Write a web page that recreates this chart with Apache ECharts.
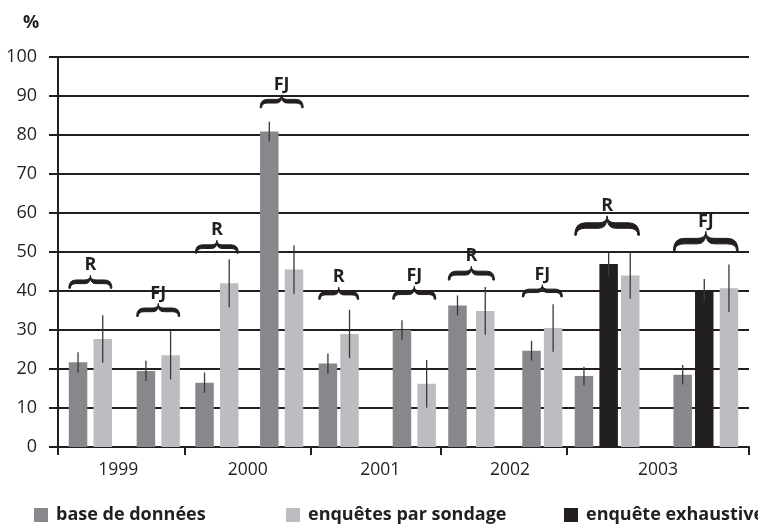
<!DOCTYPE html>
<html><head><meta charset="utf-8">
<script src="https://cdn.jsdelivr.net/npm/echarts@6/dist/echarts.min.js"></script>
<style>html,body{margin:0;padding:0;background:#fff}#c{width:758px;height:525px}</style>
</head><body><div id="c"></div>
<script>
// ---- data ----
const years = ['1999', '2000', '2001', '2002', '2003'];
const groupYear = ['1999','1999','2000','2000','2001','2001','2002','2002','2003','2003'];
const groupLabel = ['R','FJ','R','FJ','R','FJ','R','FJ','R','FJ'];
const seriesNames = ['base de données', 'enquêtes par sondage', 'enquête exhaustive'];
const baseDonnees    = [21.7, 19.5, 16.5, 80.9, 21.4, 30.0, 36.3, 24.7, 18.2, 18.5];
const baseDonneesErr = [2.6, 2.6, 2.6, 2.5, 2.6, 2.5, 2.55, 2.55, 2.4, 2.5];
const sondage        = [27.7, 23.5, 42.0, 45.5, 29.0, 16.2, 34.9, 30.5, 44.0, 40.7];
const sondageErr     = [6.1, 6.2, 6.15, 6.2, 6.2, 6.1, 6.1, 6.1, 6.0, 6.1];
const exhaustive     = [null, null, null, null, null, null, null, null, 46.9, 40.2];
const exhaustiveErr  = [null, null, null, null, null, null, null, null, 3.0, 2.9];
const braceLevel     = [40.7, 33.5, 49.7, 87.0, 37.9, 37.9, 42.8, 38.5, 54.3, 50.3];
const yTicks = [0, 10, 20, 30, 40, 50, 60, 70, 80, 90, 100];

// ---- layout (slots on a fine category axis) ----
const N_SLOTS = 224;
const slotBase       = [6, 28, 47, 68, 87, 111, 129, 153, 170, 202];
const slotSondage    = [14, 36, 55, 76, 94, 119, 138, 160, 185, 217];
const slotExhaustive = [null, null, null, null, null, null, null, null, 178, 209];
const yearTickSlots  = [0, 41, 82, 124, 165];
const yearLabelSlots = [19, 61, 104, 146, 194];

const BAR_W = 18.5;
const INK = '#231f20';
const FONT = '"Open Sans", "Noto Sans", sans-serif';
const colors = ['#87888b', '#bcbdc0', '#231f20'];

const categories = Array.from({length: N_SLOTS}, (_, i) => 's' + i);
function slotArray(values, slots) {
  const arr = new Array(N_SLOTS).fill('-');
  values.forEach((v, g) => { if (v != null && slots[g] != null) arr[slots[g]] = v; });
  return arr;
}
const errData = [];
[[baseDonnees, baseDonneesErr, slotBase], [sondage, sondageErr, slotSondage], [exhaustive, exhaustiveErr, slotExhaustive]]
  .forEach(([vals, errs, slots]) => vals.forEach((v, g) => {
    if (v != null) errData.push([slots[g], v - errs[g], v + errs[g]]);
  }));
const braceData = groupLabel.map((_, g) => {
  const s = [slotBase[g], slotSondage[g], slotExhaustive[g]].filter(x => x != null);
  return [Math.min(...s), Math.max(...s), braceLevel[g]];
});

function bracePath(xL, xR, yb) {
  const w = xR - xL, h = 0.3 * w, xm = (xL + xR) / 2;
  const ya = yb - 0.5 * h, yt = yb - h, t = 0.085 * w, e = 1.6;
  const up = ya - t / 2, dn = ya + t / 2;
  return [
    'M', xL, yb,
    'Q', xL, up, xL + 0.17 * w, up,
    'L', xm - 0.13 * w, up,
    'Q', xm, up, xm, yt,
    'Q', xm, up, xm + 0.13 * w, up,
    'L', xR - 0.17 * w, up,
    'Q', xR, up, xR, yb,
    'L', xR - e, yb,
    'Q', xR - e, dn, xR - 0.17 * w, dn,
    'L', xm + 0.13 * w, dn,
    'Q', xm, dn, xm, yt + 2,
    'Q', xm, dn, xm - 0.13 * w, dn,
    'L', xL + 0.17 * w, dn,
    'Q', xL + e, dn, xL + e, yb,
    'Z'
  ].join(' ');
}

const chart = echarts.init(document.getElementById('c'));
chart.setOption({
  animation: false,
  grid: {left: 58, right: 9, top: 57, bottom: 78},
  graphic: [{type: 'text', left: 23, top: 14,
    style: {text: '%', font: 'bold 18px "Open Sans", sans-serif', fill: INK}}],
  legend: seriesNames.map((n, i) => ({
    data: [n], left: [29, 281, 559][i], top: 501, icon: 'rect', itemWidth: 14, itemHeight: 14,
    selectedMode: false,
    textStyle: {fontFamily: FONT, fontWeight: 'bold', fontSize: 18, color: INK, padding: [0, 0, 0, 3]}
  })),
  xAxis: {
    type: 'category', data: categories, boundaryGap: true,
    axisLine: {lineStyle: {color: INK, width: 2}},
    axisTick: {show: true, length: 8, lineStyle: {color: INK, width: 2},
      interval: (i) => yearTickSlots.indexOf(i) >= 0},
    axisLabel: {interval: (i) => yearLabelSlots.indexOf(i) >= 0,
      formatter: (v, i) => { const k = yearLabelSlots.indexOf(i); return k >= 0 ? years[k] : ''; },
      fontFamily: FONT, fontSize: 17.5, color: INK, margin: 14}
  },
  yAxis: {
    type: 'value', min: yTicks[0], max: yTicks[yTicks.length - 1], interval: yTicks[1] - yTicks[0],
    axisLine: {show: true, lineStyle: {color: INK, width: 2}},
    axisTick: {show: true, length: 9, lineStyle: {color: INK, width: 2}},
    splitLine: {show: true, lineStyle: {color: INK, width: 2}},
    axisLabel: {fontFamily: FONT, fontSize: 18, color: INK, margin: 21}
  },
  series: [
    {type: 'bar', name: seriesNames[0], data: slotArray(baseDonnees, slotBase), barWidth: BAR_W, barGap: '-100%', itemStyle: {color: colors[0]}, silent: true},
    {type: 'bar', name: seriesNames[1], data: slotArray(sondage, slotSondage), barWidth: BAR_W, barGap: '-100%', itemStyle: {color: colors[1]}, silent: true},
    {type: 'bar', name: seriesNames[2], data: slotArray(exhaustive, slotExhaustive), barWidth: BAR_W, barGap: '-100%', itemStyle: {color: colors[2]}, silent: true},
    {type: 'custom', name: 'err', data: errData, z: 5, silent: true,
      encode: {x: 0, y: [1, 2]},
      renderItem: (params, api) => {
        const a = api.coord([api.value(0), api.value(1)]);
        const b = api.coord([api.value(0), api.value(2)]);
        return {type: 'line', shape: {x1: a[0], y1: a[1], x2: b[0], y2: b[1]},
          style: {stroke: '#3a3839', lineWidth: 1.3}};
      }},
    {type: 'custom', name: 'braces', data: braceData, z: 6, silent: true,
      encode: {x: [0, 1], y: 2},
      renderItem: (params, api) => {
        const xL = api.coord([api.value(0), 0])[0] - BAR_W / 2;
        const xR = api.coord([api.value(1), 0])[0] + BAR_W / 2;
        const yb = api.coord([0, api.value(2)])[1];
        const w = xR - xL, xm = (xL + xR) / 2, yt = yb - 0.3 * w;
        return {type: 'group', children: [
          {type: 'path', shape: {pathData: bracePath(xL, xR, yb)},
            style: {fill: INK, stroke: INK, lineWidth: 1, lineJoin: 'round'}},
          {type: 'text', style: {text: groupLabel[params.dataIndex], x: xm, y: yt - 1,
            align: 'center', verticalAlign: 'bottom', fill: INK,
            fontFamily: FONT, fontWeight: 'bold', fontSize: 18}}
        ]};
      }}
  ]
});
</script>
</body></html>
